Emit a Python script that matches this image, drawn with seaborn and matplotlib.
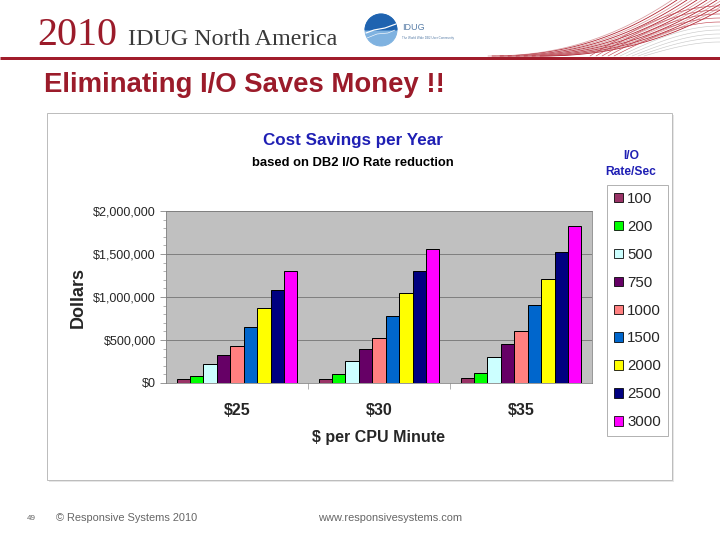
import numpy as np
import pandas as pd
import seaborn as sns
import matplotlib.pyplot as plt
from matplotlib.patches import Patch, Rectangle, Circle, Wedge
from matplotlib.ticker import FuncFormatter, MultipleLocator

# values (dollars saved per year)
prices = ["$25", "$30", "$35"]
io_rates = ["100", "200", "500", "750", "1000", "1500", "2000", "2500", "3000"]
save_25 = [43000, 87000, 217000, 326000, 434000, 651000, 868000, 1085000, 1302000]
save_30 = [52000, 104000, 260000, 391000, 521000, 781000, 1042000, 1302000, 1562000]
save_35 = [61000, 122000, 304000, 456000, 608000, 911000, 1215000, 1519000, 1823000]
bar_colors = ["#993366", "#00FF00", "#CCFFFF", "#660066", "#FF8080",
              "#0066CC", "#FFFF00", "#000080", "#FF00FF"]

rows = []
for p, vals in zip(prices, [save_25, save_30, save_35]):
    for r, v in zip(io_rates, vals):
        rows.append({"price": p, "rate": r, "savings": v})
df = pd.DataFrame(rows)

sns.set_style("white")
plt.rcParams["font.family"] = ["Liberation Sans", "DejaVu Sans"]

W, H = 720, 540
fig = plt.figure(figsize=(W / 72, H / 72), dpi=72)
fig.patch.set_facecolor("white")

def fx(px):
    return px / W

def fy(py):
    return 1 - py / H

# ---- slide header ----
deco = fig.add_axes([0, 0, 1, 1], zorder=-5)
deco.set_xlim(0, W)
deco.set_ylim(H, 0)
deco.axis("off")
deco.plot([0, W], [58, 58], color="#A11D2B", lw=3, solid_capstyle="butt")
# swoosh lines top right (decoration)
for k in range(14):
    x0, x1 = 488 + 4 * k, 672 + 5 * k
    x = np.linspace(x0, min(x1, 720), 60)
    u = (x - x0) / (x1 - x0)
    y = 56 - 56 * u ** 2.2
    deco.plot(x, y, color="#B0202E" if k % 2 else "#d9a0a4", lw=0.8)
for k in range(10):
    x0 = 590 + 6 * k
    x = np.linspace(x0, 720, 40)
    u = (x - x0) / (720 - x0)
    y = 56 - (50 - 4 * k) * np.sin(u * np.pi / 2)
    deco.plot(x, y, color="#c04450" if k < 5 else "#c8c8c8", lw=0.6)
# logo
deco.add_patch(Circle((381, 30), 16, color="#7FB2E0"))
deco.add_patch(Wedge((381, 30), 16, 180, 360, color="#1F63B0"))
deco.plot([366, 374, 385, 396], [33, 30, 28, 24], color="white", lw=1.2)
deco.plot([367, 377, 388, 395], [38, 34, 33, 30], color="white", lw=0.6)
deco.text(402, 28, "IDUG", fontsize=9, color="#5A7FA8", va="center")
deco.text(402, 38, "The World Wide DB2 User Community", fontsize=3, color="#5A7FA8", va="center")

fig.text(fx(37), fy(45), "2010", family=["Liberation Serif", "DejaVu Serif"],
         fontsize=40, color="#9B1B2A", va="baseline")
fig.text(fx(128), fy(45), "IDUG North America", family=["Liberation Serif", "DejaVu Serif"],
         fontsize=24, color="#3a3a3a", va="baseline")
fig.text(fx(44), fy(85), "Eliminating I/O Saves Money !!", fontsize=27.5,
         fontweight="bold", color="#9B1B2A", va="center")

# ---- chart frame ----
deco.add_patch(Rectangle((49, 115), 625, 367, fc="#e6e6e6", ec="none"))
deco.add_patch(Rectangle((47, 113), 625, 367, fc="white", ec="#bdbdbd", lw=1))

fig.text(fx(353), fy(141), "Cost Savings per Year", fontsize=17, fontweight="bold",
         color="#1F1FB4", ha="center", va="center")
fig.text(fx(353), fy(163), "based on DB2 I/O Rate reduction", fontsize=13,
         fontweight="bold", color="black", ha="center", va="center")

ax = fig.add_axes([fx(166), fy(383), fx(592 - 166), (383 - 211) / H])
sns.barplot(data=df, x="price", y="savings", hue="rate", hue_order=io_rates,
            palette=dict(zip(io_rates, bar_colors)), saturation=1, width=0.85, gap=0,
            edgecolor="black", linewidth=1, errorbar=None, legend=False, ax=ax)
ax.set_facecolor("#C0C0C0")
ax.set_ylim(0, 2000000)
ax.set_xlim(-0.5, 2.5)
ax.yaxis.set_major_locator(MultipleLocator(500000))
ax.yaxis.set_minor_locator(MultipleLocator(100000))
ax.yaxis.set_major_formatter(FuncFormatter(lambda v, _: "${:,.0f}".format(v)))
ax.grid(axis="y", color="#808080", lw=1)
ax.set_axisbelow(True)
for s in ax.spines.values():
    s.set_color("#808080")
ax.tick_params(axis="y", which="major", length=6, color="#808080", labelsize=12.5, pad=4, left=True)
ax.tick_params(axis="y", which="minor", length=3, color="#808080", left=True)
ax.set_xticks([0.5, 1.5], minor=True)
ax.tick_params(axis="x", which="major", length=0, labelsize=16, pad=20)
ax.tick_params(axis="x", which="minor", length=6, color="#808080", bottom=True)
for lab in ax.get_xticklabels():
    lab.set_fontweight("bold")
ax.set_xlabel("$ per CPU Minute", fontsize=16, fontweight="bold", labelpad=12)
ax.set_ylabel("Dollars", fontsize=18, fontweight="bold", labelpad=6)

# legend
handles = [Patch(facecolor=c, edgecolor="black", lw=0.8, label=r)
           for r, c in zip(io_rates, bar_colors)]
fig.legend(handles=handles, loc="upper left", bbox_to_anchor=(fx(607), fy(185)),
           frameon=True, fancybox=False, edgecolor="#a0a0a0", fontsize=15,
           handlelength=0.6, handleheight=0.6, handletextpad=0.3,
           labelspacing=0.93, borderpad=0.45, borderaxespad=0)
fig.text(fx(631), fy(164), "I/O\nRate/Sec", fontsize=12, fontweight="bold",
         color="#1F1FB4", ha="center", va="center", linespacing=1.5)

# footer
fig.text(fx(27), fy(518), "49", fontsize=8, color="#666666", va="center")
fig.text(fx(56), fy(518), "\u00a9 Responsive Systems 2010", fontsize=11, color="#666666", va="center")
fig.text(fx(318), fy(518), "www.responsivesystems.com", fontsize=11, color="#666666", va="center")

fig.savefig("out.png", dpi=72)
